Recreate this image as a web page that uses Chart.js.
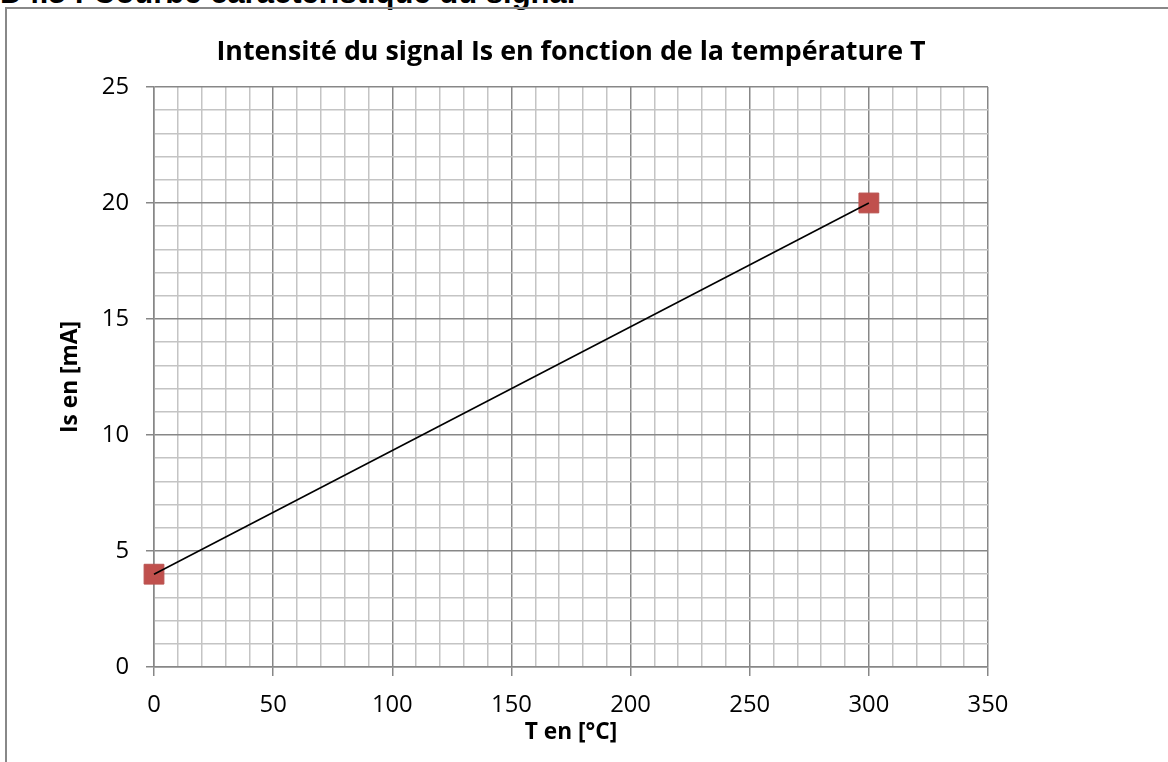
<!DOCTYPE html>
<html>
<head>
<meta charset="utf-8">
<script src="https://cdn.jsdelivr.net/npm/chart.js@4"></script>
<style>
  html, body { margin: 0; padding: 0; background: #fff; overflow: hidden; }
  body { width: 1168px; height: 762px; position: relative; }
  #heading {
    position: absolute; left: 0; top: -23px; margin: 0;
    font: bold 31px 'Liberation Sans', Arial, sans-serif; line-height: 31px;
    white-space: nowrap; color: #000;
  }
  #frame {
    position: absolute; left: 5px; top: 7px; width: 1300px; height: 900px;
    border-left: 2px solid #888; border-top: 2px solid #888;
  }
  #wrap { position: absolute; left: 0; top: 0; width: 1168px; height: 762px; }
</style>
</head>
<body>
<p id="heading">D4.3 : Courbe caractéristique du signal</p>
<div id="frame"></div>
<div id="wrap"><canvas id="courbe" width="1168" height="762"></canvas></div>
<script>
// points mesures : temperature en degres C, intensite en mA
const temperatures = [0, 300];
const intensites = [4, 20];

const titre = 'Intensité du signal Is en fonction de la température T';
const titreX = 'T en [°C]';
const titreY = 'Is en [mA]';

const majeur = '#878787';
const mineur = '#c4c4c4';

Chart.defaults.font.family = "'Open Sans', sans-serif";
Chart.defaults.color = '#000';

const points = temperatures.map((t, i) => ({ x: t, y: intensites[i] }));

// couleur des lignes de grille : fortes tous les 5 pas, fines sinon
function gridColor(pas) {
  return (ctx) => (ctx.tick && ctx.tick.value % pas === 0 ? majeur : mineur);
}
function tickColor(pas) {
  return (ctx) => (ctx.tick && ctx.tick.value % pas === 0 ? majeur : 'rgba(0,0,0,0)');
}

let ctx = document.getElementById('courbe');
new Chart(ctx, {
  type: 'scatter',
  data: {
    datasets: [
      {
        label: 'droite',
        data: points,
        showLine: true,
        borderColor: '#000',
        borderWidth: 1.6,
        pointRadius: 0,
        clip: false,
      },
      {
        label: 'mesures',
        data: points,
        showLine: false,
        pointStyle: 'rect',
        pointRadius: 14,
        backgroundColor: '#c0504d',
        borderColor: '#b9524f',
        borderWidth: 1,
        clip: false,
      },
    ],
  },
  options: {
    responsive: false,
    animation: false,
    layout: { padding: { left: 0, right: 26, top: 0, bottom: 0 } },
    plugins: {
      legend: { display: false },
      tooltip: { enabled: false },
      title: {
        display: true,
        text: titre,
        font: { size: 26.8, weight: 'bold' },
        color: '#000',
        padding: { top: 35.9, bottom: 18.9 },
      },
    },
    scales: {
      x: {
        type: 'linear',
        min: 0,
        max: 350,
        ticks: {
          stepSize: 10,
          autoSkip: false,
          maxRotation: 0,
          font: { size: 23.8 },
          padding: 15,
          callback: (v) => (v % 50 === 0 ? v : ''),
        },
        grid: { color: gridColor(50), tickColor: tickColor(50), lineWidth: 1.5, tickLength: 9 },
        border: { color: majeur, width: 1.5 },
        title: { display: true, text: titreX, font: { size: 22.7, weight: 'bold' }, padding: { top: 0, bottom: 15.4 } },
        afterFit: (s) => { s.height = 95; },
      },
      y: {
        type: 'linear',
        min: 0,
        max: 25,
        ticks: {
          stepSize: 1,
          autoSkip: false,
          font: { size: 23.8 },
          padding: 17,
          callback: (v) => (v % 5 === 0 ? v : ''),
        },
        grid: { color: gridColor(5), tickColor: tickColor(5), lineWidth: 1.5, tickLength: 8 },
        border: { color: majeur, width: 1.5 },
        title: { display: true, text: titreY, font: { size: 22.7, weight: 'bold' }, padding: { top: 57.4, bottom: 0 } },
        afterFit: (s) => { s.width = 154; },
      },
      // axe vide a droite : garde la zone de trace a 988 px
      marge: {
        type: 'linear',
        position: 'right',
        min: 0,
        max: 1,
        grid: { display: false },
        ticks: { display: false },
        border: { display: false },
        afterFit: (s) => { s.width = 154; },
      },
    },
  },
});
</script>
</body>
</html>
